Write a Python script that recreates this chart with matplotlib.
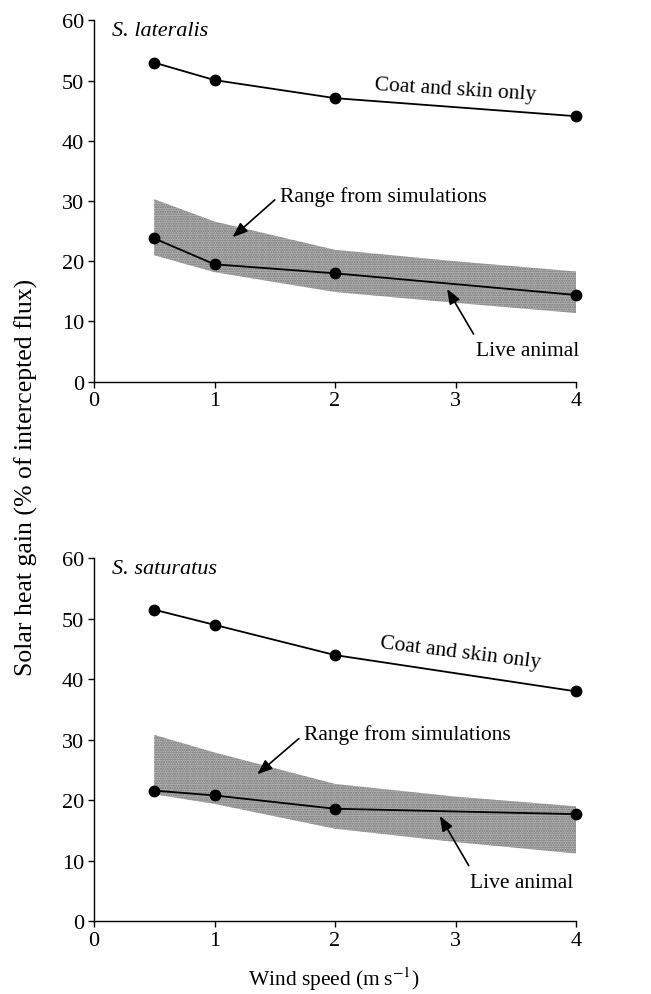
import numpy as np
import matplotlib
matplotlib.use('Agg')
import matplotlib.pyplot as plt

plt.rcParams['font.family'] = ['Liberation Serif', 'DejaVu Serif']
plt.rcParams['mathtext.fontset'] = 'stix'

# Wind speeds (m s-1)
wind = [0.5, 1, 2, 4]
band_x = [0.5, 1, 2, 3, 4]

# S. lateralis
lat_coat = [53.0, 50.1, 47.1, 44.1]
lat_live = [23.8, 19.5, 18.0, 14.4]
lat_band_hi = [30.3, 26.6, 21.9, 20.0, 18.3]
lat_band_lo = [21.0, 18.2, 14.9, 13.1, 11.4]

# S. saturatus
sat_coat = [51.5, 49.0, 44.0, 38.0]
sat_live = [21.6, 20.8, 18.6, 17.7]
sat_band_hi = [30.8, 27.9, 22.7, 20.6, 19.0]
sat_band_lo = [21.0, 19.4, 15.3, 13.1, 11.2]

xticks = [0, 1, 2, 3, 4]
yticks = [0, 10, 20, 30, 40, 50, 60]


def draw_panel(ax, name, coat, live, hi, lo, coat_txt, coat_rot,
               range_tail, range_head, live_txt, live_tail, live_head):
    # stippled band of simulated values
    ax.fill_between(band_x, lo, hi, facecolor='#b8b8b8', edgecolor='#707070',
                    hatch='.......', linewidth=0, zorder=1)
    ax.plot(wind, coat, 'k-', marker='o', ms=7.5, lw=1.3, zorder=3, clip_on=False)
    ax.plot(wind, live, 'k-', marker='o', ms=7.5, lw=1.3, zorder=3, clip_on=False)

    ax.set_xlim(0, 4)
    ax.set_ylim(0, 60)
    ax.set_xticks(xticks)
    ax.set_yticks(yticks)
    ax.spines['top'].set_visible(False)
    ax.spines['right'].set_visible(False)
    ax.tick_params(direction='out', length=4, width=1, labelsize=16, pad=3)
    for sp in ('left', 'bottom'):
        ax.spines[sp].set_linewidth(1.0)

    ax.text(0.15, 58.3, name, style='italic', fontsize=16, va='center', ha='left')
    ax.text(coat_txt[0], coat_txt[1], 'Coat and skin only', fontsize=15.5,
            rotation=coat_rot, ha='center', va='center', rotation_mode='anchor')

    arrow = dict(arrowstyle='-|>,head_length=0.9,head_width=0.35', color='k',
                 lw=1.2, shrinkA=0, shrinkB=0)
    ax.annotate('', xy=range_head, xytext=range_tail, arrowprops=arrow, zorder=4)
    ax.text(range_tail[0] + 0.04, range_tail[1] + 0.7, 'Range from simulations',
            fontsize=15.5, ha='left', va='center')
    ax.annotate('', xy=live_head, xytext=live_tail, arrowprops=arrow, zorder=4)
    ax.text(live_txt[0], live_txt[1], 'Live animal', fontsize=15.5,
            ha='center', va='center', clip_on=False)


fig = plt.figure(figsize=(6.51, 9.95), dpi=100)
ax1 = fig.add_axes([0.1444, 0.6154, 0.7404, 0.3630])
ax2 = fig.add_axes([0.1444, 0.0731, 0.7404, 0.3648])

draw_panel(ax1, 'S. lateralis', lat_coat, lat_live, lat_band_hi, lat_band_lo,
           (3.0, 48.6), -3.5,
           (1.50, 30.2), (1.15, 24.0),
           (3.60, 5.15), (3.15, 7.9), (2.93, 15.4))
draw_panel(ax2, 'S. saturatus', sat_coat, sat_live, sat_band_hi, sat_band_lo,
           (3.04, 44.5), -7,
           (1.70, 30.2), (1.355, 24.3),
           (3.55, 6.45), (3.11, 9.2), (2.87, 17.4))

fig.text(26 / 651, 1 - 477 / 995, 'Solar heat gain (% of intercepted flux)',
         rotation=90, ha='center', va='center', fontsize=18.5)
fig.text(334 / 651, 1 - 986 / 995, 'Wind speed (m\u2009s$^{-1}$)',
         ha='center', va='baseline', fontsize=15.5)

fig.savefig('out.png', dpi=100)
